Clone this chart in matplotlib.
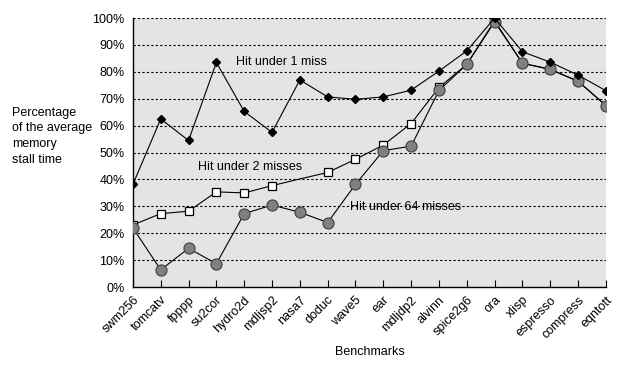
import numpy as np
import matplotlib
matplotlib.use("Agg")
import matplotlib.pyplot as plt

plt.rcParams['font.family'] = ['Liberation Sans', 'DejaVu Sans']

benchmarks = ["swm256", "tomcatv", "fpppp", "su2cor", "hydro2d", "mdljsp2",
              "nasa7", "doduc", "wave5", "ear", "mdljdp2", "alvinn",
              "spice2g6", "ora", "xlisp", "espresso", "compress", "eqntott"]

hit_1 = [38.2, 62.5, 54.5, 83.5, 65.3, 57.5, 77.0, 70.7, 69.8, 70.7, 73.2,
         80.3, 87.8, 100.0, 87.5, 83.6, 78.8, 73.0]
hit_2 = [23.1, 27.3, 28.2, 35.4, 35.0, 37.7, 40.2, 42.6, 47.5, 52.8, 60.8,
         74.2, 82.8, 99.0, 83.2, 81.0, 76.5, 67.5]
hit_64 = [22.0, 6.4, 14.4, 8.7, 27.3, 30.5, 27.8, 24.0, 38.2, 50.7, 52.4,
          73.1, 82.8, 98.6, 83.2, 80.9, 76.5, 67.5]

yticks = np.arange(0, 101, 10)

fig = plt.figure(figsize=(6.24, 3.69), dpi=100)
ax = fig.add_axes([0.213, 0.222, 0.758, 0.729])
ax.set_facecolor("#e4e4e4")

x = np.arange(len(benchmarks))

# squares: no marker shown at nasa7 (hidden in the original)
sq_idx = [i for i in range(len(benchmarks)) if i != 6]
ax.plot(x, hit_2, color="black", lw=0.8, marker="s", ms=6,
        mfc="white", mec="black", mew=0.9, markevery=sq_idx, zorder=3)
ax.plot(x, hit_64, color="black", lw=0.8, marker="o", ms=8,
        mfc="#808080", mec="#404040", mew=0.8, zorder=4)
ax.plot(x, hit_1, color="black", lw=0.8, marker="D", ms=4.5,
        mfc="black", mec="black", zorder=5)

ax.text(3.7, 83.5, "Hit under 1 miss", fontsize=9, va="center", zorder=6)
ax.text(2.35, 44.5, "Hit under 2 misses", fontsize=9, va="center", zorder=6)
ax.text(7.8, 29.8, "Hit under 64 misses", fontsize=9, va="center", zorder=2)

ax.set_xlim(0, len(benchmarks) - 1)
ax.set_ylim(0, 100)
ax.set_yticks(yticks)
ax.set_yticklabels([f"{v}%" for v in yticks], fontsize=9)
ax.tick_params(axis="y", length=0, pad=6)
ax.set_xticks(x)
ax.set_xticklabels(benchmarks, rotation=45, ha="right",
                   rotation_mode="anchor", fontsize=9)
ax.tick_params(axis="x", direction="in", length=5, width=0.8, pad=5)

ax.yaxis.grid(True, color="black", linestyle=(0, (2, 2)), lw=0.8)
ax.set_axisbelow(True)
for s in ["top", "right"]:
    ax.spines[s].set_visible(False)
for s in ["left", "bottom"]:
    ax.spines[s].set_linewidth(1.0)

ax.set_xlabel("Benchmarks", fontsize=9, labelpad=4)
fig.text(0.019, 0.631, "Percentage\nof the average\nmemory\nstall time",
         fontsize=9, ha="left", va="center", linespacing=1.4)

plt.savefig("out.png", dpi=100)
